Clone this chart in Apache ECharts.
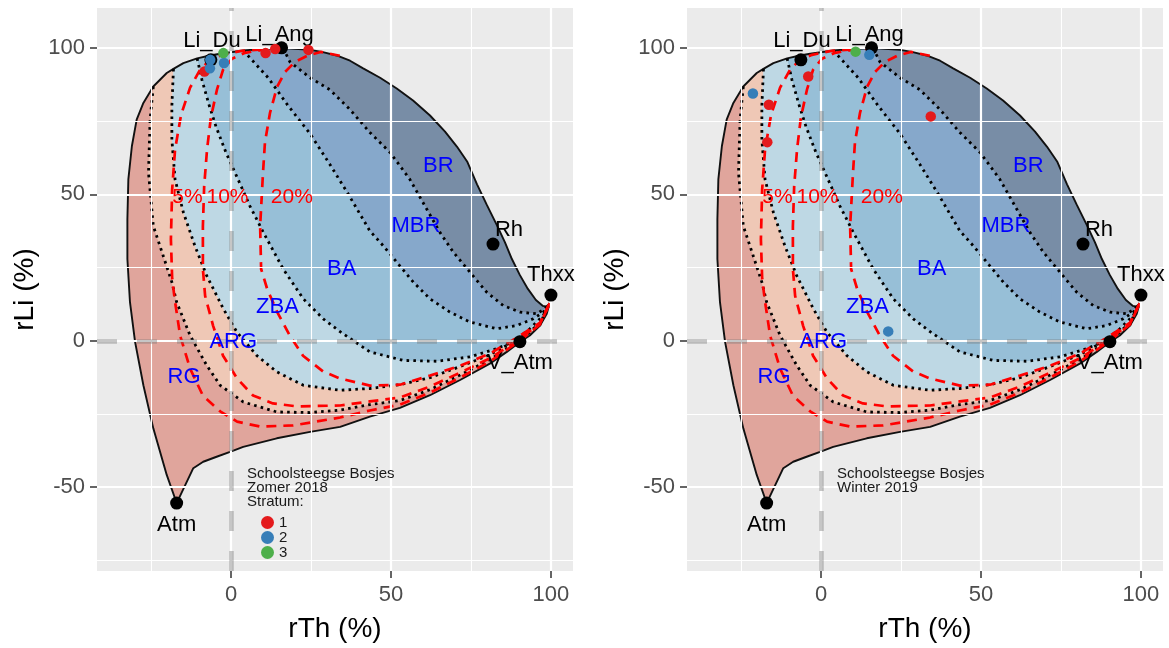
<!DOCTYPE html>
<html>
<head>
<meta charset="utf-8">
<title>rTh / rLi</title>
<script src="https://cdn.jsdelivr.net/npm/echarts@6/dist/echarts.min.js"></script>
<style>
html, body { margin: 0; padding: 0; background: #ffffff; }
#chart { width: 1169px; height: 648px; }
</style>
</head>
<body>
<div id="chart"></div>
<script>
// ---- axis ticks and ranges ----
const xTicks = [0, 50, 100];
const xMinorTicks = [-25, 25, 75];
const yTicks = [-50, 0, 50, 100];
const yMinorTicks = [-75, -25, 25, 75];
const xRange = [-41.9, 106.9];
const yRange = [-78.6, 113.6];

// ---- diagram outline: upper edge from Atm, round the top, down to the tip near Thxx ----
const outerUpper = [
  [-17.0,-55.4],[-20.1,-45.8],[-24.3,-29.9],[-27.4,-15.2],[-30.0,-0.4],[-31.6,13.3],
  [-32.4,27.9],[-32.4,41.5],[-32.1,55.1],[-31.0,66.4],[-29.5,75.5],[-27.4,81.2],
  [-24.3,86.8],[-20.1,91.4],[-18.0,92.8],[-14.9,94.8],[-10.6,96.4],[-6.6,97.4],
  [-3.4,98.0],[3.8,99.1],[11.2,99.7],[16.3,99.9],[24.7,99.3],[28.4,98.6],
  [33.0,97.4],[37.2,95.6],[41.3,93.0],[46.6,89.8],[51.8,86.1],[56.9,82.0],
  [62.2,76.9],[66.9,71.4],[70.6,66.3],[73.8,61.2],[76.9,53.4],[80.0,46.3],
  [83.1,39.5],[85.6,33.7],[87.8,27.9],[90.3,22.4],[92.8,17.7],[95.3,13.9],
  [97.5,11.9],[98.8,11.6],[99.6,12.8]
];
// lower edge from Atm to the tip
const outerLower = [
  [-17.0,-55.4],[-11.8,-43.5],[-8.7,-41.3],[-4.5,-39.6],[-0.3,-37.9],[3.8,-36.2],
  [14.3,-33.3],[24.7,-31.1],[34.1,-29.4],[43.4,-25.9],[52.8,-22.9],[62.2,-18.6],
  [71.6,-13.4],[80.9,-7.8],[86.2,-3.8],[90.3,-0.4],[93.4,1.8],[96.6,5.2],
  [98.7,9.2],[99.6,12.8]
];

// ---- dotted zone dividers (each starts on the upper edge and ends at the tip) ----
const divRgArg = [
  [-24.3,86.8],[-25.3,75.5],[-25.8,57.4],[-24.3,39.2],[-21.2,29.0],[-18.5,20.0],
  [-17.0,13.2],[-12.8,1.8],[-7.6,-8.4],[-3.4,-15.2],[3.8,-20.9],[14.3,-24.3],
  [24.7,-24.5],[34.1,-23.7],[43.4,-21.8],[52.8,-20.4],[62.2,-16.7],[71.6,-11.7],
  [80.9,-6.5],[90.3,0.3],[96.6,5.5],[99.6,12.8]
];
const divArgZba = [
  [-18.0,92.8],[-18.5,80.0],[-18.5,68.7],[-17.5,55.1],[-14.9,43.8],[-11.3,32.4],
  [-7.6,22.2],[-2.4,10.9],[1.8,3.0],[8.0,-5.0],[14.3,-10.6],[22.6,-15.2],
  [34.1,-16.9],[43.4,-16.3],[52.8,-15.0],[62.2,-12.6],[71.6,-8.8],[80.9,-4.8],
  [90.3,1.0],[96.6,5.8],[99.6,12.8]
];
const divZbaBa = [
  [-10.6,96.4],[-9.1,89.1],[-6.9,80.6],[-4.7,73.1],[-1.6,64.3],[1.9,55.8],
  [5.9,46.0],[10.1,37.0],[16.3,24.5],[22.6,14.3],[28.8,7.5],[34.1,3.1],
  [43.4,-3.8],[53.8,-6.7],[64.3,-7.0],[74.7,-5.5],[83.0,-2.7],[88.2,-0.4],
  [93.4,4.1],[97.6,8.6],[99.6,12.8]
];
const divBaMbr = [
  [3.8,99.1],[11.6,89.8],[17.8,80.3],[24.7,70.7],[30.9,60.2],[36.3,50.7],
  [43.4,37.5],[47.6,32.4],[51.8,26.8],[57.0,20.0],[62.2,14.3],[68.4,9.8],
  [74.7,6.4],[83.0,4.1],[89.3,5.2],[94.5,7.5],[97.6,9.8],[99.6,12.8]
];
const divMbrBr = [
  [16.3,99.9],[18.4,95.2],[24.7,89.8],[30.9,85.7],[37.2,78.9],[43.4,71.1],
  [49.7,64.3],[55.9,55.1],[61.2,44.9],[65.3,37.0],[69.5,30.2],[74.7,23.4],
  [79.9,16.6],[85.1,12.0],[90.3,9.8],[95.5,9.2],[98.1,10.9],[99.6,12.8]
];

// ---- red dashed contours ----
const contour5 = [
  [9.7,99.5],[2.8,98.9],[-2.8,97.6],[-6.6,95.9],[-9.7,92.5],[-12.8,86.4],
  [-15.6,77.2],[-17.5,65.3],[-18.4,51.7],[-18.8,34.7],[-18.4,21.1],[-17.5,13.3],
  [-15.9,1.7],[-12.8,-9.5],[-8.8,-18.7],[-3.4,-24.1],[1.9,-27.6],[9.1,-29.3],
  [19.4,-28.9],[34.1,-26.2],[43.4,-23.8],[52.8,-21.8],[62.2,-17.7],[71.6,-12.6],
  [80.9,-7.1],[90.3,0.0],[96.6,5.6],[99.6,12.8]
];
const contour10 = [
  [16.9,99.9],[9.7,99.3],[4.4,98.3],[0.3,96.3],[-2.5,92.5],[-4.4,85.7],
  [-6.3,76.2],[-7.5,65.3],[-8.4,52.7],[-8.8,39.1],[-8.8,24.5],[-8.1,15.3],
  [-5.6,5.1],[-2.5,-5.1],[1.9,-12.9],[6.9,-18.7],[13.1,-21.4],[20.6,-22.4],
  [34.1,-22.1],[43.4,-20.7],[52.8,-19.4],[62.2,-15.6],[71.6,-10.9],[80.9,-6.0],
  [90.3,0.7],[96.6,5.9],[99.6,12.8]
];
const contour20 = [
  [34.0,97.3],[28.0,98.6],[23.8,97.3],[20.0,95.2],[16.9,91.8],[14.4,86.7],
  [12.2,77.9],[10.6,67.7],[10.0,57.5],[9.1,39.1],[9.4,24.5],[11.3,17.7],
  [14.4,9.9],[18.4,1.7],[22.5,-5.1],[28.8,-10.5],[34.1,-12.9],[43.4,-15.3],
  [52.8,-15.0],[62.2,-11.9],[71.6,-8.5],[80.9,-4.4],[90.3,1.7],[96.6,6.2],
  [99.6,12.8]
];

// ---- text placed on the diagram ----
const zoneNames = ['RG', 'ARG', 'ZBA', 'BA', 'MBR', 'BR'];
const zoneLabelX = [-14.7, 0.7, 14.5, 34.6, 57.8, 64.8];
const zoneLabelY = [-12.3, -0.4, 11.6, 24.5, 39.2, 59.6];
const contourNames = ['5%', '10%', '20%'];
const contourLabelX = [-13.6, -1.1, 19.0];
const contourLabelY = [49.1, 49.1, 49.1];

// ---- reference points ----
const refNames = ['Atm', 'Li_Du', 'Li_Ang', 'Rh', 'Thxx', 'V_Atm'];
const refX = [-17.0, -6.3, 15.8, 81.9, 100.0, 90.3];
const refY = [-55.4, 95.9, 100.0, 33.0, 15.6, -0.3];

// ---- samples per stratum ----
const strata = ['1', '2', '3'];
const zomer2018S1 = [[-8.3,91.9],[10.8,98.2],[13.8,99.6],[24.2,99.3]];
const zomer2018S2 = [[-6.5,95.9],[-6.6,93.0],[-2.2,94.8]];
const zomer2018S3 = [[-2.4,98.2]];
const winter2019S1 = [[-16.3,80.6],[-16.8,67.8],[-4.0,90.2],[34.3,76.6]];
const winter2019S2 = [[-21.3,84.4],[15.1,97.6],[21.0,3.2]];
const winter2019S3 = [[10.8,98.7]];

const panelNotes = ['Schoolsteegse Bosjes\nZomer 2018\nStratum:', 'Schoolsteegse Bosjes\nWinter 2019'];
const noteAnchor = [5.0, -43.0];

// ---- styling ----
const FONT = "'Liberation Sans', Arial, Helvetica, sans-serif";
const zoneColors = ['#D6604D', '#F4A582', '#92C5DE', '#4393C3', '#2166AC', '#053061'];
const strataColors = ['#E41A1C', '#377EB8', '#4DAF4A'];
const refLabelOffset = { Atm: [0, 22], Li_Du: [1, -19], Li_Ang: [-2, -13], Rh: [16, -14], Thxx: [0, -20], V_Atm: [0, 21] };
const panels = [
  { left: 97, top: 8, width: 476, height: 565 },
  { left: 687, top: 8, width: 476, height: 565 }
];

function rgba(hex, a) {
  const n = parseInt(hex.slice(1), 16);
  return 'rgba(' + (n >> 16) + ',' + ((n >> 8) & 255) + ',' + (n & 255) + ',' + a + ')';
}

// index of the upper-edge vertex where a divider begins
function startIndex(curve) {
  let best = 0, bd = Infinity;
  outerUpper.forEach((p, i) => {
    const d = (p[0] - curve[0][0]) ** 2 + (p[1] - curve[0][1]) ** 2;
    if (d < bd) { bd = d; best = i; }
  });
  return best;
}
// closed band between two curves that both run from the upper edge to the tip
function band(a, b) {
  const ia = startIndex(a), ib = startIndex(b);
  return a.concat(b.slice().reverse(), outerUpper.slice(ia, ib + 1).reverse());
}
const upperTail = outerUpper.slice(startIndex(divMbrBr));
const bandEdges = [outerLower, divRgArg, divArgZba, divZbaBa, divBaMbr, divMbrBr, upperTail];
const zonePolygons = zoneNames.map((_, i) => band(bandEdges[i], bandEdges[i + 1]));

function gridLineSeries(gi) {
  const major = { lineStyle: { color: '#FFFFFF', width: 2.2, type: 'solid' } };
  const minor = { lineStyle: { color: '#FFFFFF', width: 1.1, type: 'solid' } };
  const data = [].concat(
    xMinorTicks.map(v => Object.assign({ xAxis: v }, minor)),
    xTicks.map(v => Object.assign({ xAxis: v }, major)),
    yMinorTicks.map(v => Object.assign({ yAxis: v }, minor)),
    yTicks.map(v => Object.assign({ yAxis: v }, major))
  );
  return {
    type: 'line', xAxisIndex: gi, yAxisIndex: gi, data: [], z: 1, silent: true,
    markLine: { silent: true, symbol: ['none', 'none'], label: { show: false }, animation: false,
      emphasis: { disabled: true }, lineStyle: { type: 'solid' }, data }
  };
}

function refLineSeries(gi) {
  return {
    type: 'line', xAxisIndex: gi, yAxisIndex: gi, data: [], z: 3, silent: true,
    markLine: { silent: true, symbol: ['none', 'none'], label: { show: false }, animation: false,
      emphasis: { disabled: true },
      lineStyle: { color: 'rgba(120,120,120,0.42)', width: 4.5, type: [20, 20] },
      data: [{ xAxis: 0 }, { yAxis: 0 }] }
  };
}

function zoneSeries(gi, poly, color) {
  return {
    type: 'custom', xAxisIndex: gi, yAxisIndex: gi, data: [[0, 0]], silent: true, z: 2,
    renderItem: (params, api) => ({
      type: 'polygon',
      shape: { points: poly.map(p => api.coord(p)) },
      style: { fill: rgba(color, 0.5) }
    })
  };
}

function pathSeries(gi, pts, lineStyle, z) {
  return {
    type: 'line', xAxisIndex: gi, yAxisIndex: gi, data: pts, showSymbol: false, symbol: 'none',
    silent: true, z: z, lineStyle: lineStyle, emphasis: { disabled: true }
  };
}

function textSeries(gi, names, xs, ys, size, color, z) {
  return {
    type: 'custom', xAxisIndex: gi, yAxisIndex: gi, silent: true, z: z,
    data: names.map((n, i) => [xs[i], ys[i]]),
    renderItem: (params, api) => {
      const p = api.coord([api.value(0), api.value(1)]);
      return { type: 'text', x: p[0], y: p[1],
        style: { text: names[params.dataIndex], fill: color, fontSize: size, fontFamily: FONT,
          align: 'center', verticalAlign: 'middle' } };
    }
  };
}

function noteSeries(gi, text) {
  return {
    type: 'custom', xAxisIndex: gi, yAxisIndex: gi, silent: true, z: 5,
    data: [noteAnchor],
    renderItem: (params, api) => {
      const p = api.coord([api.value(0), api.value(1)]);
      return { type: 'text', x: p[0], y: p[1],
        style: { text: text, fill: '#1A1A1A', fontSize: 15, fontFamily: FONT, lineHeight: 14,
          align: 'left', verticalAlign: 'top' } };
    }
  };
}

function refPointSeries(gi) {
  return {
    type: 'scatter', xAxisIndex: gi, yAxisIndex: gi, symbol: 'circle', symbolSize: 13, z: 6, silent: true,
    itemStyle: { color: '#000000', opacity: 1 },
    data: refNames.map((n, i) => ({ name: n, value: [refX[i], refY[i]], label: { offset: refLabelOffset[n] } })),
    label: { show: true, position: 'inside', formatter: '{b}', color: '#000000', opacity: 1,
      fontSize: 22, fontFamily: FONT, textBorderWidth: 0 }
  };
}

function strataSeries(gi, sets) {
  return sets.map((pts, k) => ({
    type: 'scatter', name: strata[k], xAxisIndex: gi, yAxisIndex: gi, symbol: 'circle', symbolSize: 10.5,
    z: 7, silent: true, itemStyle: { color: strataColors[k], opacity: 1 }, data: pts
  }));
}

const dotted = { color: '#000000', width: 2.8, type: [2.6, 4.2], cap: 'butt' };
const dashed = { color: '#FF0000', width: 2.7, type: [10, 7], cap: 'butt' };
const outline = { color: '#111111', width: 1.9, type: 'solid' };

function panelSeries(gi, sets, note) {
  let s = [gridLineSeries(gi)];
  zonePolygons.forEach((poly, i) => s.push(zoneSeries(gi, poly, zoneColors[i])));
  s.push(refLineSeries(gi));
  s.push(pathSeries(gi, outerUpper, outline, 4));
  s.push(pathSeries(gi, outerLower, outline, 4));
  [divRgArg, divArgZba, divZbaBa, divBaMbr, divMbrBr].forEach(d => s.push(pathSeries(gi, d, dotted, 4)));
  [contour5, contour10, contour20].forEach(c => s.push(pathSeries(gi, c, dashed, 4)));
  s.push(textSeries(gi, zoneNames, zoneLabelX, zoneLabelY, 22, '#0000FF', 5));
  s.push(textSeries(gi, contourNames, contourLabelX, contourLabelY, 21, '#FF0000', 5));
  s.push(noteSeries(gi, note));
  s.push(refPointSeries(gi));
  s = s.concat(strataSeries(gi, sets));
  return s;
}

function xAxisCfg(gi) {
  return {
    type: 'value', gridIndex: gi, min: xRange[0], max: xRange[1],
    name: 'rTh (%)', nameLocation: 'middle', nameGap: 44,
    nameTextStyle: { fontSize: 28, color: '#000000', fontFamily: FONT },
    axisLine: { show: false, onZero: false }, splitLine: { show: false },
    axisTick: { show: true, customValues: xTicks, length: 7, lineStyle: { color: '#333333', width: 1.5 } },
    axisLabel: { show: true, customValues: xTicks, margin: 13, color: '#4D4D4D', fontSize: 22, fontFamily: FONT }
  };
}
function yAxisCfg(gi) {
  return {
    type: 'value', gridIndex: gi, min: yRange[0], max: yRange[1],
    name: 'rLi (%)', nameLocation: 'middle', nameGap: 58, nameRotate: 90,
    nameTextStyle: { fontSize: 28, color: '#000000', fontFamily: FONT },
    axisLine: { show: false, onZero: false }, splitLine: { show: false },
    axisTick: { show: true, customValues: yTicks, length: 7, lineStyle: { color: '#333333', width: 1.5 } },
    axisLabel: { show: true, customValues: yTicks, margin: 12, color: '#4D4D4D', fontSize: 22, fontFamily: FONT }
  };
}

const chart = echarts.init(document.getElementById('chart'), null, { renderer: 'canvas' });
chart.setOption({
  animation: false,
  backgroundColor: '#FFFFFF',
  grid: panels.map(p => Object.assign({ show: true, backgroundColor: '#EBEBEB', borderWidth: 0, containLabel: false }, p)),
  xAxis: [xAxisCfg(0), xAxisCfg(1)],
  yAxis: [yAxisCfg(0), yAxisCfg(1)],
  legend: {
    show: true, data: strata, orient: 'vertical', left: 256, top: 510,
    itemWidth: 13, itemHeight: 13, itemGap: 0, icon: 'circle', selectedMode: false,
    textStyle: { fontSize: 15, color: '#1A1A1A', fontFamily: FONT }
  },
  series: panelSeries(0, [zomer2018S1, zomer2018S2, zomer2018S3], panelNotes[0])
    .concat(panelSeries(1, [winter2019S1, winter2019S2, winter2019S3], panelNotes[1]))
});
</script>
</body>
</html>
